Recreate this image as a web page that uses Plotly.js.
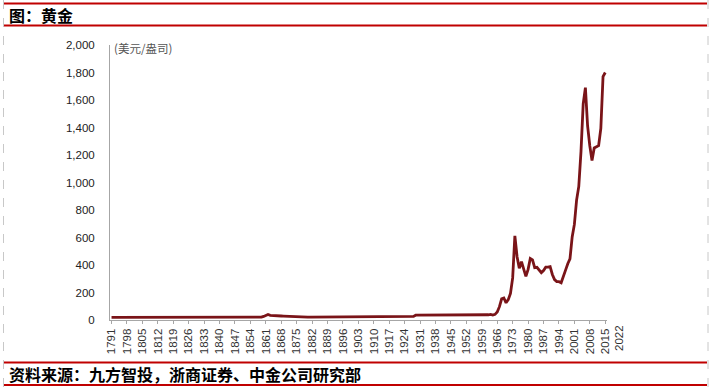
<!DOCTYPE html>
<html>
<head>
<meta charset="utf-8">
<script src="https://cdn.plot.ly/plotly-3.0.1.min.js"></script>
<style>
  html, body { margin: 0; padding: 0; background: #fff; }
  #chart { width: 710px; height: 388px; }
</style>
</head>
<body>
<div id="chart"></div>
<script>
// ---- data ----
const titleText = "图：黄金";
const sourceText = "资料来源：九方智投，浙商证券、中金公司研究部";
const unitText = "(美元/盎司)";
const seriesName = "黄金";

// category years on the axis (one point per label year)
const years = [];
for (let y = 1791; y <= 2015; y++) years.push(y);

// gold price, USD/oz
const price = [
  19.39,19.39,19.39,19.39,19.39,19.39,19.39,19.39,19.39,19.39,
  19.39,19.39,19.39,19.39,19.39,19.39,19.39,19.39,19.39,19.39,
  19.39,19.39,19.39,
  22,21,
  19.39,19.39,19.39,19.39,19.39,19.39,19.39,19.39,19.39,19.39,19.39,19.39,19.39,19.39,19.39,19.39,
  20.67,20.67,20.67,20.67,20.67,20.67,20.67,20.67,20.67,20.67,
  20.67,20.67,20.67,20.67,20.67,20.67,20.67,20.67,20.67,20.67,
  20.67,20.67,20.67,20.67,20.67,20.67,20.67,
  20.67,26,32,40,34,32,31,31,30,29,28,27,26,25,24,22,21,
  20.67,20.67,20.67,20.67,20.67,20.67,20.67,20.67,20.67,20.67,
  20.67,20.67,20.67,20.67,20.67,20.67,20.67,20.67,20.67,20.67,
  20.67,20.67,20.67,20.67,20.67,20.67,20.67,20.67,20.67,20.67,
  20.67,20.67,20.67,20.67,20.67,20.67,20.67,20.67,20.67,20.67,
  20.67,20.67,20.67,20.67,20.67,20.67,20.67,20.67,20.67,20.67,
  20.67,20.67,
  26,
  35,35,35,35,35,35,35,35,35,35,
  35,35,35,35,35,35,35,35,35,35,
  35,35,35,35,35,35,35,35,35,35,
  35,35,35,
  38,41,36,41,58,97,154,160,125,148,
  193,306,612,460,376,424,361,317,368,447,
  437,381,383,362,344,360,384,384,388,331,
  294,279,279,271,310,363,409,444,604,695,
  872,972,1225,1572,1690,1411,1266,1160,1251,1257,
  1268,1393,1770,1800
];
if (price.length !== years.length) console.error("length mismatch", price.length, years.length);

const tickYears = [1791,1798,1805,1812,1819,1826,1833,1840,1847,1854,1861,1868,1875,1882,1889,1896,1903,1910,1917,1924,1931,1938,1945,1952,1959,1966,1973,1980,1987,1994,2001,2008,2015];
const tickText = tickYears.map(String);
const extraTickLabel = "2022";

// ---- layout helpers (pixel -> paper) ----
const L = 110, R = 607, T = 45, B = 320;
const px = x => (x - L) / (R - L);
const py = y => (B - y) / (B - T);

const red = '#c00000';
const cjk = '"Noto Sans CJK SC", "Noto Sans", sans-serif';
const latin = '"Liberation Sans", Arial, sans-serif';

const trace = {
  x: years, y: price, type: 'scatter', mode: 'lines', name: seriesName,
  line: { color: '#7a1418', width: 2.8, shape: 'linear' },
  hoverinfo: 'skip'
};

const layout = {
  width: 710, height: 388,
  margin: { l: L, r: 710 - R, t: T, b: 388 - B, pad: 0 },
  paper_bgcolor: '#ffffff', plot_bgcolor: '#ffffff',
  showlegend: false,
  xaxis: {
    type: 'linear', range: [1790.3, 2015.8],
    tickmode: 'array', tickvals: tickYears, ticktext: tickText,
    tickangle: -90, ticks: 'outside', ticklen: 3, tickcolor: '#a6a6a6', tickwidth: 1,
    showline: true, linecolor: '#a6a6a6', linewidth: 1,
    showgrid: false, zeroline: false,
    tickfont: { family: latin, size: 11.5, color: '#333333' }
  },
  yaxis: {
    range: [0, 2000], tick0: 0, dtick: 200, tickformat: ',d',
    showline: true, linecolor: '#a6a6a6', linewidth: 1,
    showgrid: false, zeroline: false, ticks: '',
    ticklabelstandoff: 12,
    tickfont: { family: latin, size: 11.5, color: '#222222' }
  },
  shapes: [
    { type: 'line', xref: 'paper', yref: 'paper', x0: px(3), x1: px(707), y0: py(3.5), y1: py(3.5), line: { color: red, width: 2 } },
    { type: 'line', xref: 'paper', yref: 'paper', x0: px(3), x1: px(707), y0: py(25.5), y1: py(25.5), line: { color: red, width: 2 } },
    { type: 'line', xref: 'paper', yref: 'paper', x0: px(3), x1: px(707), y0: py(362.5), y1: py(362.5), line: { color: red, width: 2 } },
    { type: 'line', xref: 'paper', yref: 'paper', x0: px(3), x1: px(707), y0: py(385), y1: py(385), line: { color: red, width: 2 } },
    { type: 'line', xref: 'paper', yref: 'paper', x0: px(3.5), x1: px(3.5), y0: py(0), y1: py(388), line: { color: '#c8c8c8', width: 1, dash: 'dash' } },
    { type: 'line', xref: 'paper', yref: 'paper', x0: px(708), x1: px(708), y0: py(0), y1: py(388), line: { color: '#c8c8c8', width: 1, dash: 'dash' } }
  ],
  annotations: [
    { text: '<b>' + titleText + '</b>', xref: 'paper', yref: 'paper', x: px(7), y: py(14.5),
      xanchor: 'left', yanchor: 'middle', showarrow: false, font: { family: cjk, size: 16, color: '#000000' } },
    { text: '<b>' + sourceText + '</b>', xref: 'paper', yref: 'paper', x: px(7), y: py(374),
      xanchor: 'left', yanchor: 'middle', showarrow: false, font: { family: cjk, size: 16, color: '#000000' } },
    { text: unitText, xref: 'paper', yref: 'paper', x: px(112), y: py(48),
      xanchor: 'left', yanchor: 'middle', showarrow: false, font: { family: cjk, size: 11.5, color: '#555555' } },
    { text: extraTickLabel, xref: 'paper', yref: 'paper', x: px(619), y: py(338),
      xanchor: 'center', yanchor: 'middle', textangle: -90, showarrow: false,
      font: { family: latin, size: 11.5, color: '#333333' } }
  ]
};

Plotly.newPlot('chart', [trace], layout, { staticPlot: true, displayModeBar: false });
</script>
</body>
</html>
